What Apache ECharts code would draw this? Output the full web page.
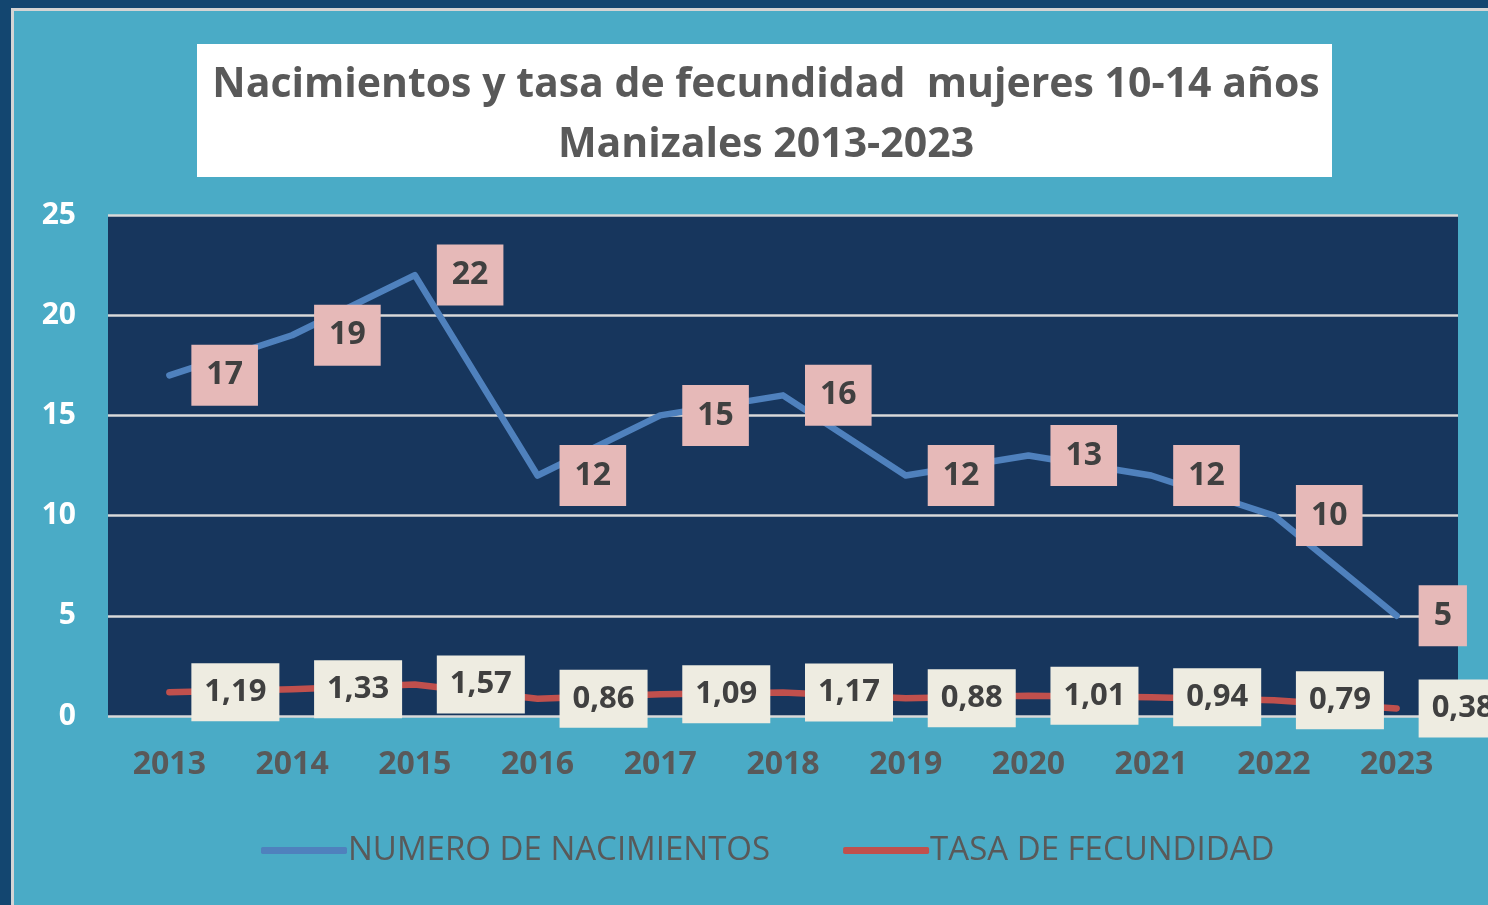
<!DOCTYPE html>
<html>
<head>
<meta charset="utf-8">
<script src="https://cdn.jsdelivr.net/npm/echarts@6/dist/echarts.min.js"></script>
<style>
html,body{margin:0;padding:0;background:#4AABC6;}
#chart{width:1488px;height:905px;}
</style>
</head>
<body>
<div id="chart"></div>
<script>
const years = ['2013','2014','2015','2016','2017','2018','2019','2020','2021','2022','2023'];
const nacimientos = [17, 19, 22, 12, 15, 16, 12, 13, 12, 10, 5];
const tasa = [1.19, 1.33, 1.57, 0.86, 1.09, 1.17, 0.88, 1.01, 0.94, 0.79, 0.38];
const yTicks = [0, 5, 10, 15, 20, 25];
const titleLines = ['Nacimientos y tasa de fecundidad  mujeres 10-14 años', 'Manizales 2013-2023'];
const seriesNames = ['NUMERO DE NACIMIENTOS', 'TASA DE FECUNDIDAD'];

const FONT = 'Open Sans';
const chart = echarts.init(document.getElementById('chart'), null, {renderer: 'canvas'});

const option = {
  backgroundColor: '#4AABC6',
  animation: false,
  graphic: [
    {type: 'rect', shape: {x: 0, y: 0, width: 1488, height: 8}, style: {fill: '#134670'}, z: 0},
    {type: 'rect', shape: {x: 0, y: 0, width: 11, height: 905}, style: {fill: '#134670'}, z: 0},
    {type: 'rect', shape: {x: 11, y: 8, width: 1477, height: 3}, style: {fill: '#D4D4D4'}, z: 0},
    {type: 'rect', shape: {x: 11, y: 8, width: 3, height: 897}, style: {fill: '#D4D4D4'}, z: 0},
    {type: 'rect', shape: {x: 197, y: 44, width: 1135, height: 133}, style: {fill: '#FFFFFF'}, z: 1},
    {type: 'text', x: 766, y: 115, z: 2,
      style: {text: titleLines.join('\n'), fill: '#595959', font: 'bold 41px "' + FONT + '"',
        textAlign: 'center', textVerticalAlign: 'middle', lineHeight: 60}}
  ],
  grid: {left: 108, top: 215, width: 1350, height: 501, show: true, backgroundColor: '#17365D', borderWidth: 0},
  legend: {
    left: 256, top: 829, itemWidth: 86, itemHeight: 7, itemGap: 73, icon: 'roundRect',
    textStyle: {color: '#595959', fontSize: 33, fontFamily: FONT, padding: [0, 0, 0, -4]},
    data: seriesNames
  },
  xAxis: {
    type: 'category', data: years, boundaryGap: true,
    axisLine: {show: false}, axisTick: {show: false},
    axisLabel: {color: '#595959', fontSize: 32, fontWeight: 'bold', fontFamily: FONT, margin: 33}
  },
  yAxis: {
    type: 'value', min: yTicks[0], max: yTicks[yTicks.length - 1], interval: 5,
    axisLine: {show: false}, axisTick: {show: false},
    splitLine: {lineStyle: {color: '#D9D9D9', width: 2.5}},
    axisLabel: {color: '#FFFFFF', fontSize: 30, fontWeight: 'bold', fontFamily: FONT, margin: 32}
  },
  series: [
    {
      name: seriesNames[0], type: 'line', data: nacimientos,
      symbol: 'circle', symbolSize: 2, itemStyle: {color: '#4F81BD'},
      lineStyle: {color: '#4F81BD', width: 6.5, cap: 'round', join: 'round'},
      label: {show: true, position: 'right', distance: 21, color: '#404040', fontSize: 32, fontWeight: 'bold',
        fontFamily: FONT, backgroundColor: '#E6B9B8', padding: [15, 15, 11, 15], lineHeight: 35},
      z: 3
    },
    {
      name: seriesNames[1], type: 'line', data: tasa,
      symbol: 'circle', symbolSize: 2, itemStyle: {color: '#C0504D'},
      lineStyle: {color: '#C0504D', width: 6.5, cap: 'round', join: 'round'},
      label: {show: true, position: 'right', distance: 21, color: '#404040', fontSize: 31, fontWeight: 'bold',
        fontFamily: FONT, backgroundColor: '#EEECE1', padding: [12, 13, 11, 13], lineHeight: 35,
        formatter: p => p.value.toFixed(2).replace('.', ',')},
      z: 4
    }
  ]
};
chart.setOption(option);
</script>
</body>
</html>
